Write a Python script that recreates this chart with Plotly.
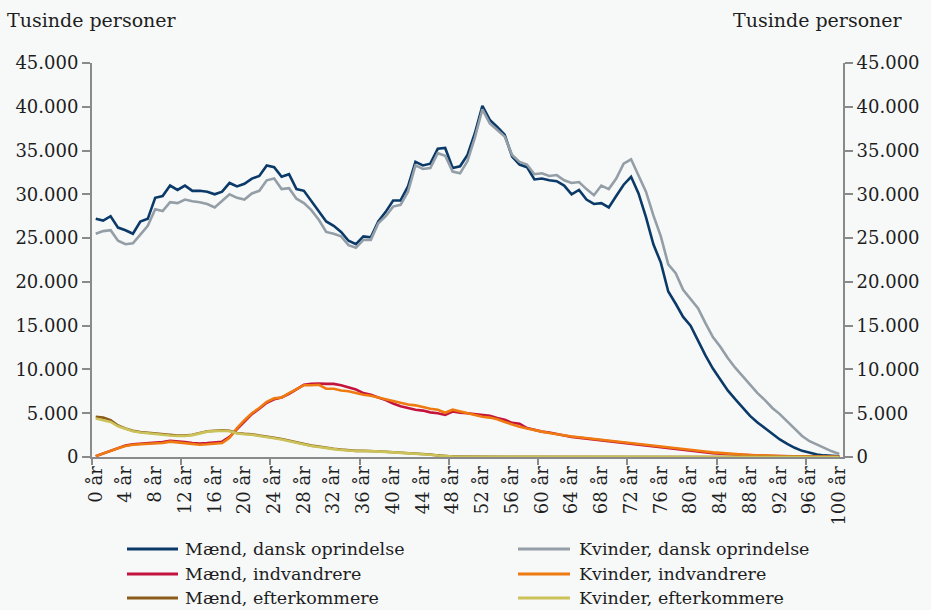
import plotly.graph_objects as go

ages = list(range(0, 101))
tick_ages = list(range(0, 101, 4))
tick_labels = [f"{a} år" for a in tick_ages]

maend_dansk = [27200, 27000, 27500, 26200, 25900, 25500, 26900, 27200, 29600, 29800,
               31000, 30500, 31000, 30400, 30400, 30300, 30000, 30300, 31300, 30900,
               31200, 31800, 32100, 33300, 33100, 32000, 32300, 30600, 30400, 29200,
               28000, 26900, 26400, 25700, 24700, 24300, 25200, 25100, 26900, 28000,
               29300, 29300, 30900, 33700, 33300, 33500, 35200, 35300, 33000, 33200,
               34500, 37000, 40100, 38500, 37700, 36800, 34300, 33400, 33100, 31700,
               31800, 31600, 31500, 31000, 30000, 30500, 29400, 28900, 29000, 28500,
               29800, 31100, 32000, 30100, 27400, 24300, 22200, 18900, 17500, 16000,
               15000, 13300, 11600, 10100, 8800, 7600, 6600, 5600, 4700, 3950,
               3300, 2600, 2000, 1500, 1050, 700, 450, 280, 180, 110, 80]

kvinder_dansk = [25500, 25800, 25900, 24700, 24300, 24400, 25400, 26400, 28300, 28100,
                 29100, 29000, 29400, 29200, 29100, 28900, 28500, 29200, 30000, 29600,
                 29400, 30100, 30400, 31600, 31800, 30600, 30700, 29500, 29000, 28200,
                 27100, 25700, 25500, 25200, 24200, 23900, 24800, 24800, 26700, 27500,
                 28600, 28800, 30300, 33300, 32900, 33000, 34700, 34400, 32600, 32400,
                 33800, 36500, 39700, 38100, 37300, 36600, 34500, 33700, 33400, 32300,
                 32400, 32100, 32200, 31600, 31300, 31400, 30600, 29900, 31000, 30600,
                 31800, 33500, 34000, 32200, 30300, 27600, 25200, 22000, 21000, 19100,
                 18000, 17000, 15300, 13700, 12600, 11300, 10200, 9200, 8300, 7300,
                 6500, 5600, 4900, 4100, 3200, 2400, 1800, 1400, 1000, 650, 350]

maend_indv = [100, 400, 750, 1000, 1300, 1450, 1500, 1550, 1650, 1700,
              1850, 1800, 1700, 1600, 1550, 1600, 1650, 1750, 2300, 3200,
              4100, 4900, 5500, 6200, 6600, 6800, 7200, 7700, 8250, 8350,
              8400, 8350, 8350, 8200, 7950, 7700, 7300, 7100, 6800, 6500,
              6100, 5800, 5600, 5400, 5300, 5100, 5000, 4800, 5200, 5050,
              5000, 4900, 4800, 4700, 4450, 4250, 3900, 3800, 3300, 3100,
              2900, 2800, 2600, 2450, 2300, 2200, 2100, 2000, 1900, 1800,
              1700, 1600, 1500, 1400, 1300, 1200, 1050, 950, 850, 750,
              650, 550, 480, 420, 370, 320, 280, 240, 200, 170,
              140, 120, 100, 80, 60, 50, 40, 30, 20, 15, 10]

kvinder_indv = [100, 400, 750, 1000, 1250, 1400, 1450, 1500, 1550, 1600,
                1750, 1650, 1550, 1450, 1400, 1450, 1500, 1600, 2200, 3300,
                4200, 5000, 5600, 6300, 6700, 6800, 7300, 7800, 8200, 8200,
                8250, 7800, 7800, 7600, 7500, 7300, 7100, 7000, 6800, 6600,
                6400, 6200, 6000, 5900, 5700, 5500, 5400, 5050, 5400, 5200,
                5050, 4800, 4600, 4500, 4300, 4000, 3700, 3450, 3250, 3050,
                2900, 2750, 2600, 2450, 2350, 2250, 2150, 2050, 1950, 1850,
                1750, 1650, 1550, 1450, 1380, 1300, 1200, 1100, 1000, 900,
                800, 700, 620, 530, 450, 380, 320, 270, 230, 190,
                150, 130, 110, 90, 80, 70, 50, 40, 30, 20, 20]

maend_efterk = [4600, 4500, 4200, 3600, 3250, 3000, 2850, 2780, 2720, 2600,
                2500, 2450, 2450, 2550, 2750, 2950, 3000, 3050, 3000, 2750,
                2650, 2600, 2450, 2350, 2200, 2050, 1850, 1650, 1450, 1300,
                1200, 1050, 950, 850, 750, 700, 720, 700, 650, 600,
                550, 500, 450, 420, 380, 280, 180, 100, 60, 40,
                30, 30, 25, 25, 20, 20, 20, 20, 15, 15,
                15, 15, 15, 10, 10, 10, 10, 10, 10, 10,
                10, 10, 5, 5, 5, 5, 5, 5, 5, 5,
                5, 5, 5, 5, 0, 0, 0, 0, 0, 0,
                0, 0, 0, 0, 0, 0, 0, 0, 0, 0, 0]

kvinder_efterk = [4400, 4200, 4000, 3500, 3200, 2950, 2800, 2700, 2650, 2550,
                  2450, 2400, 2400, 2500, 2700, 2900, 2950, 3000, 2950, 2700,
                  2600, 2550, 2400, 2300, 2150, 2000, 1800, 1600, 1400, 1250,
                  1150, 1000, 900, 800, 700, 680, 700, 680, 630, 580,
                  530, 480, 430, 400, 360, 260, 170, 90, 50, 35,
                  30, 30, 25, 25, 20, 20, 20, 20, 15, 15,
                  15, 15, 15, 10, 10, 10, 10, 10, 10, 10,
                  10, 10, 5, 5, 5, 5, 5, 5, 5, 5,
                  5, 5, 5, 5, 0, 0, 0, 0, 0, 0,
                  0, 0, 0, 0, 0, 0, 0, 0, 0, 0, 0]

series = [
    ("Mænd, dansk oprindelse", maend_dansk, "#0b3a68", 2.6),
    ("Kvinder, dansk oprindelse", kvinder_dansk, "#949ea6", 2.6),
    ("Mænd, indvandrere", maend_indv, "#c4143e", 2.6),
    ("Kvinder, indvandrere", kvinder_indv, "#ee7a10", 2.6),
    ("Mænd, efterkommere", maend_efterk, "#8c5d1a", 2.6),
    ("Kvinder, efterkommere", kvinder_efterk, "#cbc35a", 2.6),
]

FONT = "DejaVu Serif"
BG = "#f7f9f9"
AX = "#8a8a8a"

fig = go.Figure()
for name, vals, col, w in series:
    fig.add_trace(go.Scatter(x=ages, y=vals, mode="lines", name=name,
                             line=dict(color=col, width=w), showlegend=False))

yticks = list(range(0, 45001, 5000))

fig.update_layout(
    width=931, height=610,
    margin=dict(l=92, r=88, t=63, b=153),
    paper_bgcolor=BG, plot_bgcolor=BG,
    separators=",.",
    font=dict(family=FONT, size=18, color="#1e1e1e"),
    xaxis=dict(range=[-0.5, 100.5], tickmode="array", tickvals=tick_ages,
               ticktext=tick_labels, tickangle=-90, ticks="", showgrid=False,
               zeroline=False, showline=True, linecolor=AX, linewidth=2,
               tickfont=dict(family=FONT, size=18),
               minor=dict(tick0=11.5, dtick=12, ticks="outside", ticklen=6,
                          tickwidth=2, tickcolor=AX, showgrid=False)),
    yaxis=dict(range=[0, 45000], tickmode="array", tickvals=yticks,
               tickformat=",.0f", ticks="outside", ticklen=8, tickwidth=2,
               tickcolor=AX, showgrid=False, zeroline=False, showline=True,
               linecolor=AX, linewidth=2, tickfont=dict(family=FONT, size=18)),
    yaxis2=dict(range=[0, 45000], overlaying="y", side="right", anchor="x",
                tickmode="array", tickvals=yticks, tickformat=",.0f",
                ticks="outside", ticklen=8, tickwidth=2, tickcolor=AX,
                showgrid=False, zeroline=False, showline=True, linecolor=AX,
                linewidth=2, tickfont=dict(family=FONT, size=18)),
)
fig.add_trace(go.Scatter(x=[None], y=[None], yaxis="y2", showlegend=False,
                         hoverinfo="skip"))


def px_x(p):
    return (p - 92) / 751


def px_y(p):
    return (457 - p) / 394


fig.add_annotation(text="Tusinde personer", x=px_x(5), y=px_y(20), xref="paper",
                   yref="paper", xanchor="left", yanchor="middle", showarrow=False,
                   font=dict(family=FONT, size=19, color="#1e1e1e"))
fig.add_annotation(text="Tusinde personer", x=px_x(905), y=px_y(20), xref="paper",
                   yref="paper", xanchor="right", yanchor="middle", showarrow=False,
                   font=dict(family=FONT, size=19, color="#1e1e1e"))

rows = [549, 574, 598]
cols = [(127, 178, 183), (518, 570, 577)]
for idx, (name, vals, col, w) in enumerate(series):
    r = idx // 2
    c = idx % 2
    x0, x1, xt = cols[c]
    y = px_y(rows[r])
    fig.add_shape(type="line", xref="paper", yref="paper", x0=px_x(x0), x1=px_x(x1),
                  y0=y, y1=y, line=dict(color=col, width=3))
    fig.add_annotation(text=name, x=px_x(xt), y=y, xref="paper", yref="paper",
                       xanchor="left", yanchor="middle", showarrow=False,
                       font=dict(family=FONT, size=17.5, color="#1e1e1e"))

fig.write_html("out.html", config={"displayModeBar": False},
               post_script="document.body.style.margin='0';document.body.style.overflow='hidden';")
